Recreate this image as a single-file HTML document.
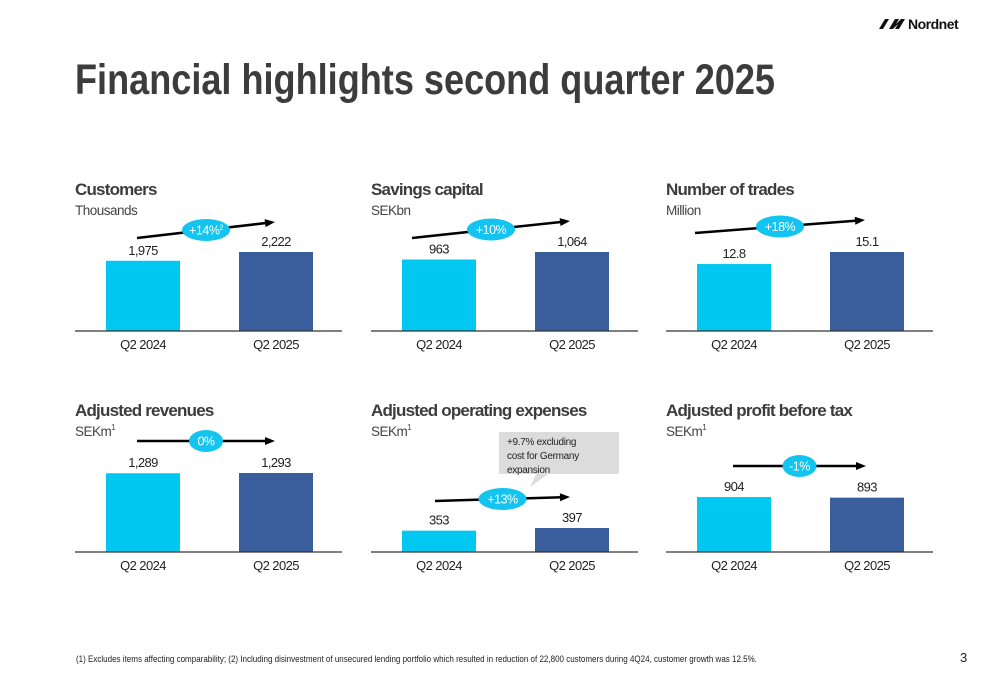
<!DOCTYPE html>
<html><head><meta charset="utf-8"><style>
html,body{margin:0;padding:0;background:#fff;}
svg{display:block;font-family:"Liberation Sans",sans-serif;}
</style></head><body>
<svg id="s" width="1000" height="685" viewBox="0 0 1000 685">
<g>
<polygon points="879,29 885,19 889,19 883,29" fill="#111"/>
<polygon points="889,29 895,19 899,19 896,24 901,19 905,19 899,29 895,29 898,24 893,29" fill="#111"/>
<text x="908" y="29" font-size="14" font-weight="bold" fill="#111" letter-spacing="-0.5">Nordnet</text>
</g>
<text x="75" y="94" font-size="43" font-weight="bold" fill="#3c3c3c" textLength="700" lengthAdjust="spacingAndGlyphs">Financial highlights second quarter 2025</text>
<text x="76" y="662" font-size="9.2" fill="#222" textLength="681" lengthAdjust="spacingAndGlyphs">(1) Excludes items affecting comparability; (2) Including disinvestment of unsecured lending portfolio which resulted in reduction of 22,800 customers during 4Q24, customer growth was 12.5%.</text>
<text x="960" y="662" font-size="13" fill="#222">3</text>
<g id="charts"></g>
</svg>
<script>
const titles=["Customers","Savings capital","Number of trades","Adjusted revenues","Adjusted operating expenses","Adjusted profit before tax"];
const units=["Thousands","SEKbn","Million","SEKm","SEKm","SEKm"];
const unitSup=["","","","1","1","1"];
const categories=["Q2 2024","Q2 2025"];
const values2024=[1975,963,12.8,1289,353,904];
const values2025=[2222,1064,15.1,1293,397,893];
const labels2024=["1,975","963","12.8","1,289","353","904"];
const labels2025=["2,222","1,064","15.1","1,293","397","893"];
const growth=["+14%","+10%","+18%","0%","+13%","-1%"];
const growthSup=["2","","","","",""];
const axisMax=[2222,1064,15.1,1293,1307,1298];
const NS="http://www.w3.org/2000/svg";
const root=document.getElementById('charts');
function mk(tag,attrs,parent,text){const e=document.createElementNS(NS,tag);for(const k in attrs)e.setAttribute(k,attrs[k]);if(text!==undefined)e.textContent=text;parent.appendChild(e);return e;}
const panelX=[75,371,666],baseY=[331,552],plotH=79;
const arrows=[[137,238,275,222],[412,238,570,221],[695,233,865,220],[137,441,275,441],[435,501,570,497],[733,466,866,466]];
for(let i=0;i<6;i++){
  const ox=panelX[i%3],by=baseY[Math.floor(i/3)],ty=by-143;
  const g=mk('g',{},root);
  
  
  const t=mk('text',{x:ox,y:ty+7,'font-size':17,'font-weight':'bold',fill:'#3c3c3c','letter-spacing':'-0.8'},g,titles[i]);
  
  
  const u=mk('text',{x:ox,y:ty+27,'font-size':13.5,fill:'#444','letter-spacing':'-0.5'},g,units[i]);
  
  
  if(unitSup[i]){mk('tspan',{'font-size':8,dy:-6},u,unitSup[i]);}
  const y=v=>by-v/axisMax[i]*plotH;
  const vals=[values2024[i],values2025[i]],labs=[labels2024[i],labels2025[i]],cols=['#00c8f0','#3a5e9c'];
  for(let j=0;j<2;j++){
    const bx=ox+31+j*133;
    const r=mk('rect',{x:bx,y:y(vals[j]),width:74,height:by-y(vals[j]),fill:cols[j]},g);
    
    
    const vl=mk('text',{x:bx+37,y:y(vals[j])-6,'font-size':13,fill:'#222','text-anchor':'middle','letter-spacing':'-0.6'},g,labs[j]);
    
    
    const cl=mk('text',{x:bx+37,y:by+18,'font-size':13,fill:'#222','text-anchor':'middle','letter-spacing':'-0.6'},g,categories[j]);
    
    
  }
  const ax=mk('line',{x1:ox,x2:ox+267,y1:by,y2:by,stroke:'#333','stroke-width':1.2},g);
  
  
  const a=arrows[i];
  const ang=Math.atan2(a[3]-a[1],a[2]-a[0]);
  const ar=mk('line',{x1:a[0],y1:a[1],x2:a[2]-8*Math.cos(ang),y2:a[3]-8*Math.sin(ang),stroke:'#000','stroke-width':2.5},g);
  
  
  const hx=a[2],hy=a[3],px=-Math.sin(ang),py=Math.cos(ang);
  const bx2=hx-10*Math.cos(ang),by2=hy-10*Math.sin(ang);
  mk('polygon',{points:`${hx},${hy} ${bx2+4*px},${by2+4*py} ${bx2-4*px},${by2-4*py}`,fill:'#000'},g);
  const cx=(a[0]+a[2])/2,cy=(a[1]+a[3])/2;
  const bw=growth[i].length>3?36:22;
  const e=mk('ellipse',{cx:cx,cy:cy,rx:bw/2+6,ry:11,fill:'#14c4f0'},g);
  
  
  const gt=mk('text',{x:cx,y:cy+4.5,'font-size':12.5,fill:'#fff','text-anchor':'middle','letter-spacing':'-0.5'},g,growth[i]);
  
  
  if(growthSup[i]){mk('tspan',{'font-size':7,dy:-5},gt,growthSup[i]);}
}
const cg=mk('g',{},root);


mk('path',{d:'M499,432 H619 V474 H548 L530,487 L536,474 H499 Z',fill:'#dcdcdc'},cg);
['+9.7% excluding','cost for Germany','expansion'].forEach((s,k)=>mk('text',{x:507,y:445+k*14,'font-size':10,fill:'#222','letter-spacing':'-0.3'},cg,s));
</script>
</body></html>
